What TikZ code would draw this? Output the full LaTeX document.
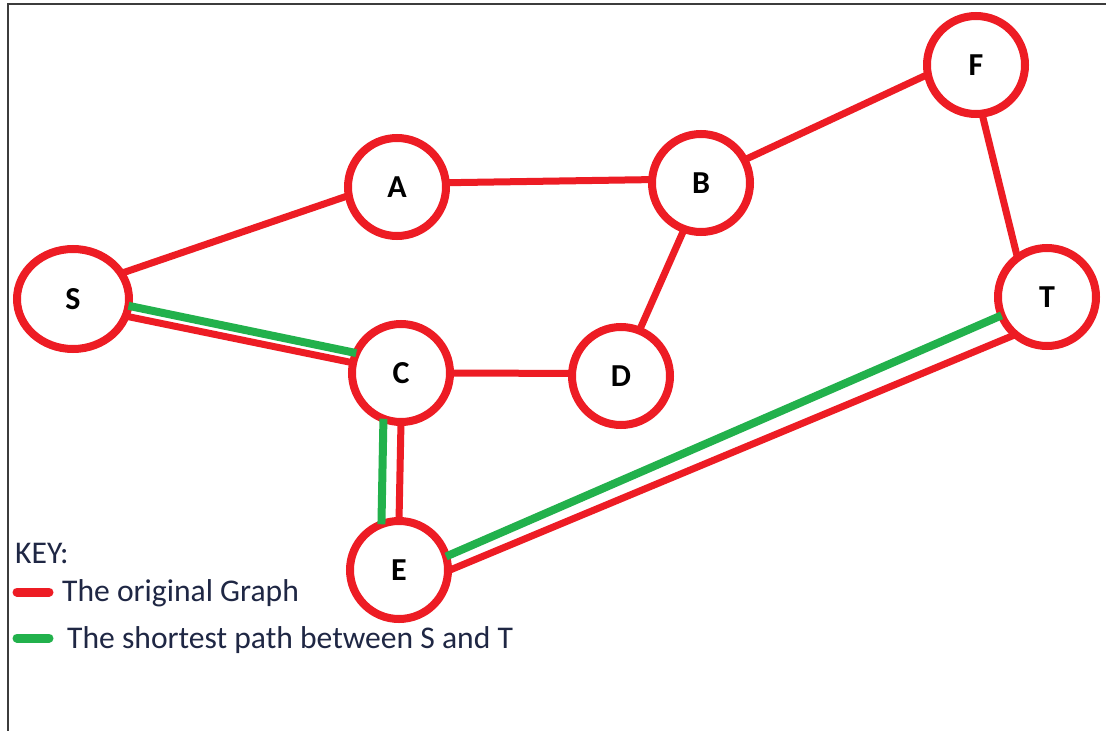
\documentclass[tikz,border=0pt]{standalone}
\usepackage{fontspec}
\setmainfont{Carlito}
\usetikzlibrary{shapes.geometric}
\definecolor{pred}{HTML}{ED1C24}
\definecolor{pgreen}{HTML}{22B14C}
\definecolor{keytext}{HTML}{1F2744}
\definecolor{frame}{HTML}{3C3C3C}
\begin{document}
\begin{tikzpicture}[x=1pt,y=-1pt,
  vert/.style={circle, draw=pred, line width=8pt, minimum size=98pt, inner sep=0pt, outer sep=0pt,
    fill=white, font=\fontsize{32}{32}\selectfont\bfseries},
  vertS/.style={vert, ellipse, minimum width=112pt, minimum height=100pt},
  redge/.style={draw=pred, line width=7pt},
  gedge/.style={draw=pgreen, line width=8pt},
  keyline/.style={line width=9pt, line cap=round},
  keylabel/.style={anchor=base west, inner sep=0pt, text=keytext, font=\fontsize{31.6}{32}\selectfont}]
\useasboundingbox (0,0) rectangle (1106,731);
\fill[white] (0,0) rectangle (1106,731);
% frame
\draw[frame, line width=2.5pt] (8,731) -- (8,4) -- (1106,4);
% vertices
\node[vertS] (S) at (73,299) {S};
\node[vert] (A) at (397,187) {A};
\node[vert] (B) at (701,183) {B};
\node[vert] (F) at (976,65) {F};
\node[vert] (T) at (1047,297) {T};
\node[vert] (C) at (401,373) {C};
\node[vert] (D) at (621,376) {D};
\node[vert] (E) at (399,570) {E};
% original graph edges
\draw[redge] (S.28) -- (A.190);
\draw[redge] (A.5) -- (B.176);
\draw[redge] (B.28) -- (F.191);
\draw[redge] (F.277) -- (T.127);
\draw[redge] (B.250) -- (D.68);
\draw[redge] (C.0) -- (D.177);
\draw[redge] (S.-18) -- (C.168);
\draw[redge] (C.270) -- (E.90);
\draw[redge] (E.-1) -- (T.230);
% shortest path
\draw[gedge] (S.-7) -- (C.156);
\draw[gedge] (C.249) -- (E.111);
\draw[gedge] (E.16) -- (T.202);
% key
\node[keylabel] (key) at (15,563) {KEY:};
\coordinate (r1) at (17,592);
\coordinate (r2) at (49,592);
\coordinate (g1) at (17,638);
\coordinate (g2) at (49,638);
\draw[keyline, pred] (r1) -- (r2);
\draw[keyline, pgreen] (g1) -- (g2);
\node[keylabel] (korig) at (62,601) {The original Graph};
\node[keylabel] (kshort) at (67,648) {The shortest path between S and T};
\end{tikzpicture}
\end{document}
